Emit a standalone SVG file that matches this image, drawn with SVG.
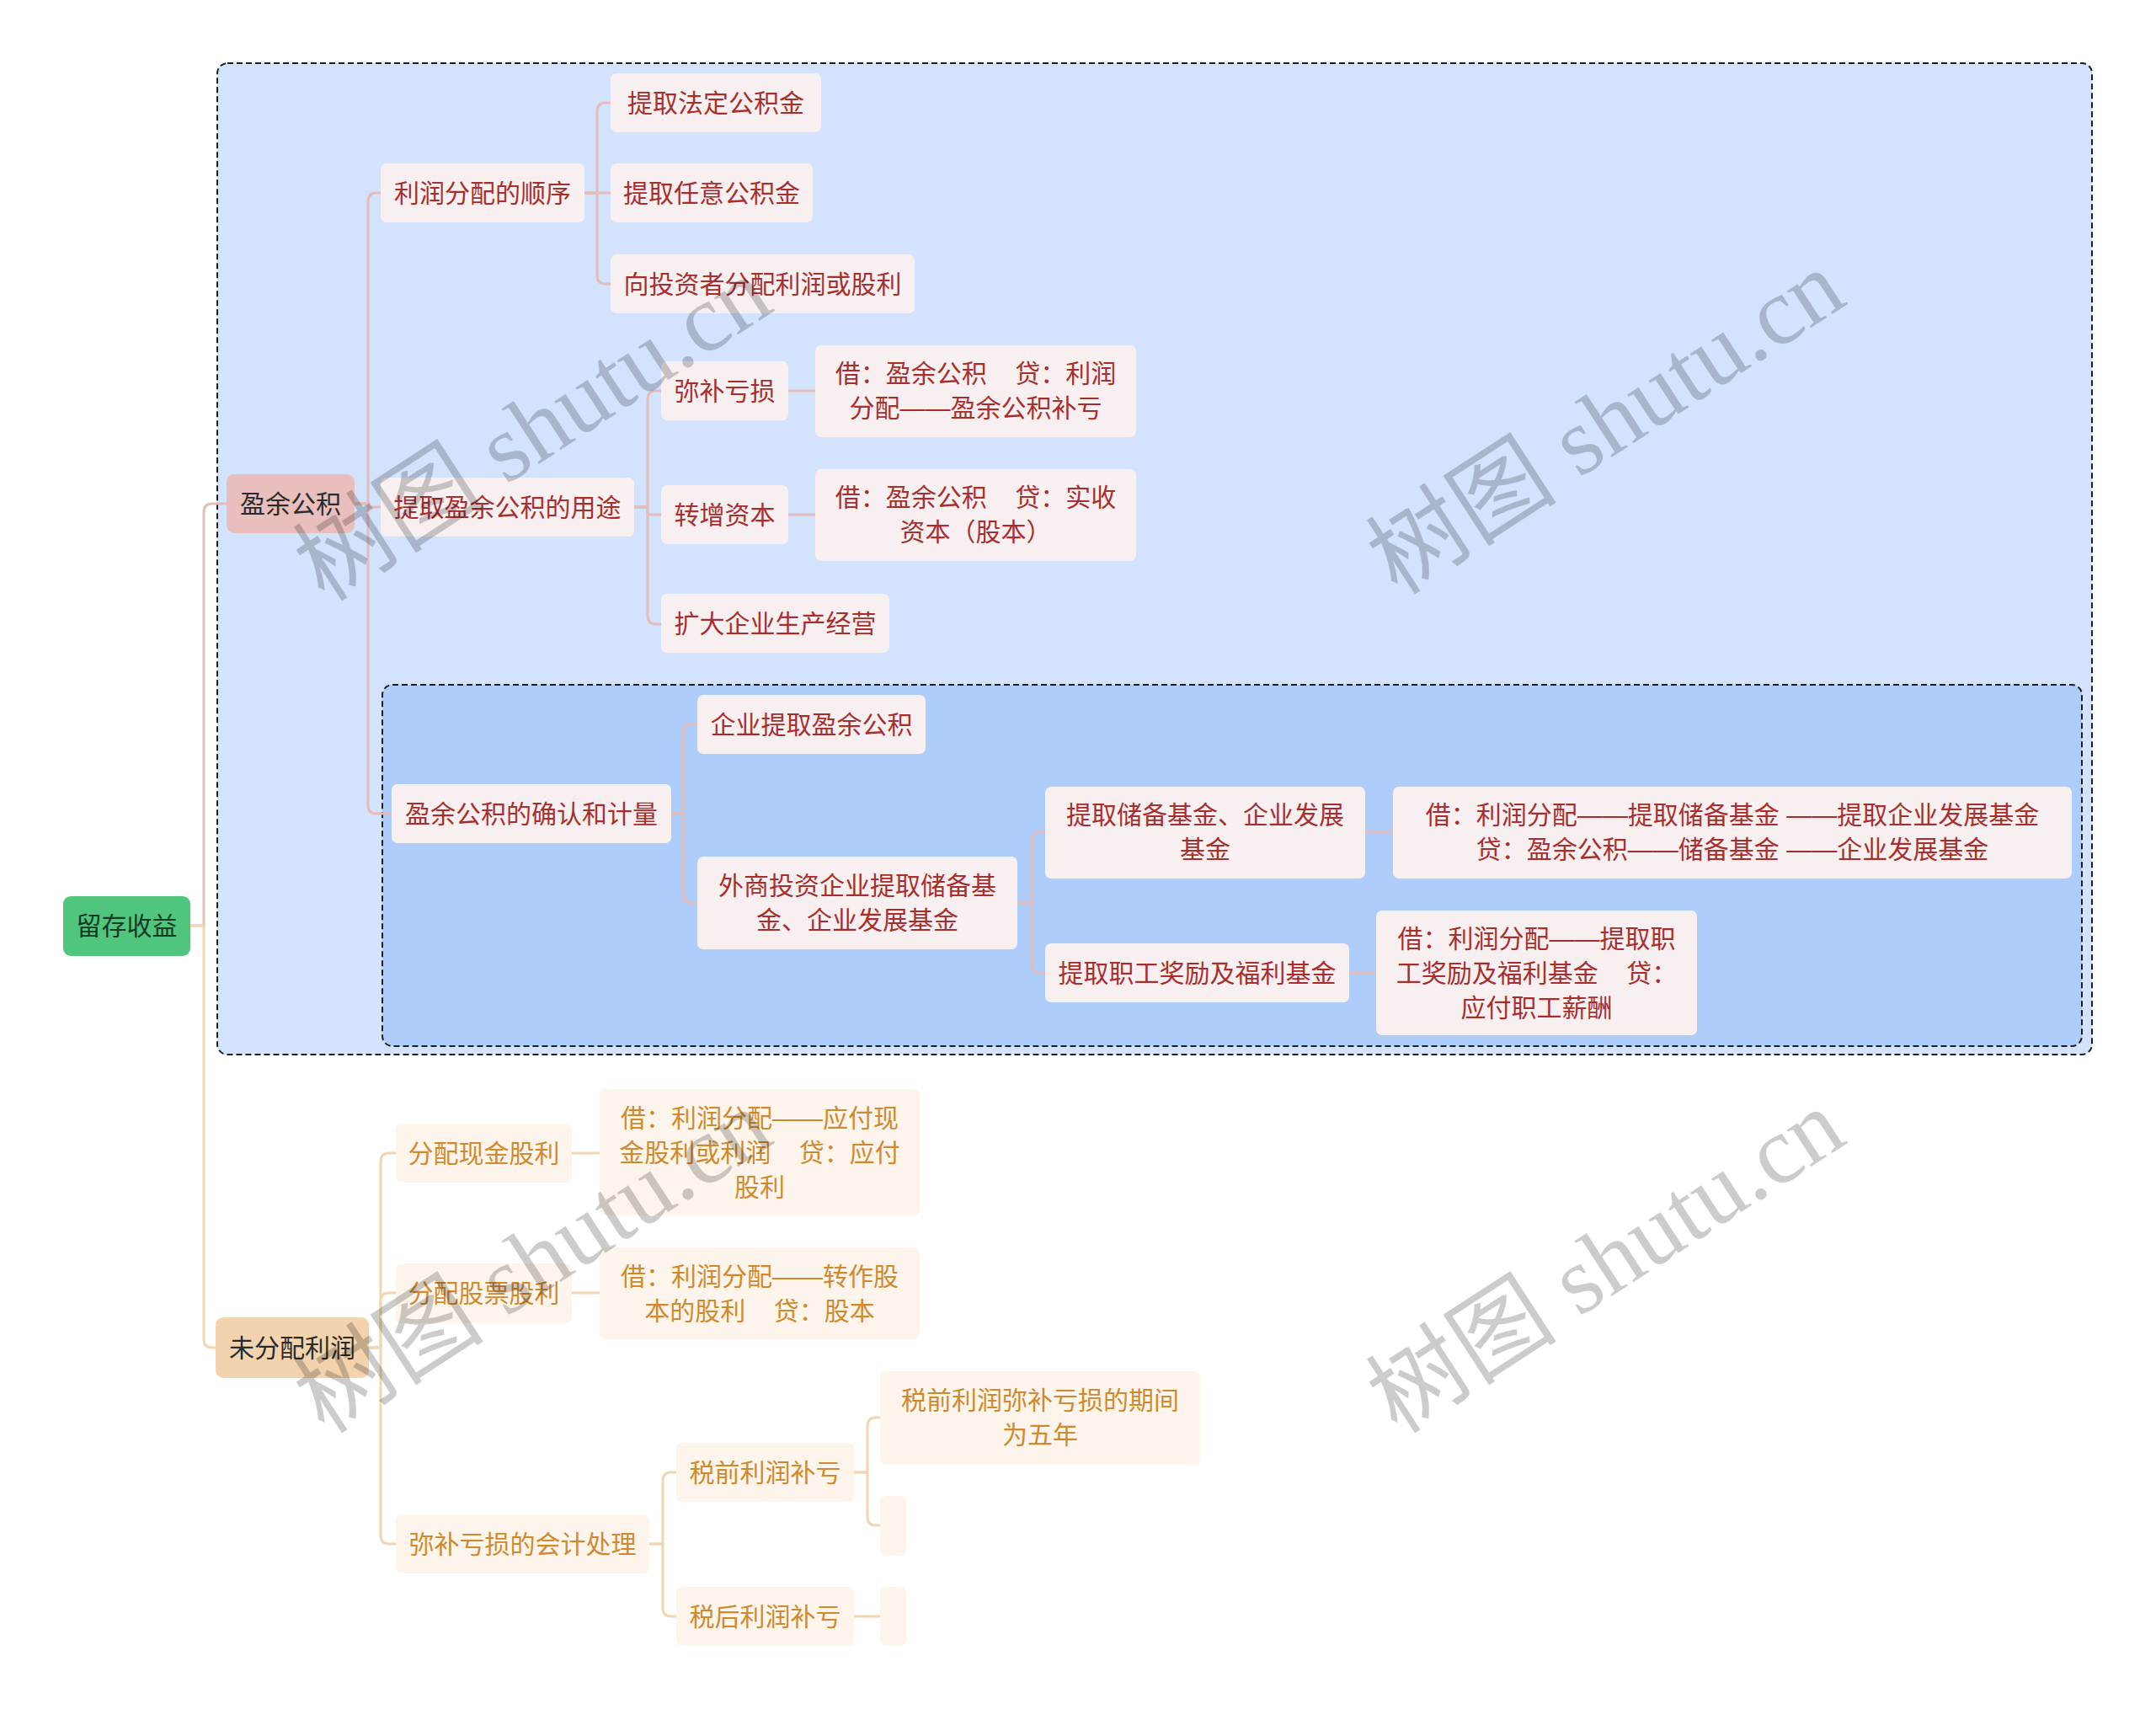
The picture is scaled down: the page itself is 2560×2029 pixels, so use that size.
<svg xmlns="http://www.w3.org/2000/svg" width="2560" height="2029" viewBox="0 0 2560 2029">
<style>
text{font-family:"Liberation Sans","Noto Sans CJK SC",sans-serif;font-size:30px;text-anchor:middle;white-space:pre}
.red rect{fill:#F8F0F0}
.red text{fill:#A82E2E}
.org rect{fill:#FDF5EB}
.org text{fill:#D0892C}
.cp{fill:none;stroke:#E4BCBA;stroke-width:3;stroke-linejoin:round}
.co{fill:none;stroke:#F2D6B2;stroke-width:3;stroke-linejoin:round}
.frame{stroke:#1E1E1E;stroke-width:2;stroke-dasharray:7 4}
.wm{font-family:"Liberation Serif","Noto Sans CJK SC",serif;font-size:114px;fill:#000;fill-opacity:0.2;text-anchor:middle}
</style>
<rect width="2560" height="2029" fill="#FFFFFF"/>
<g id="frames">
<rect class="frame" x="258" y="75" width="2226" height="1177" rx="12" fill="#D3E3FD"/>
<rect class="frame" x="454" y="813" width="2018" height="429" rx="12" fill="#AFCDFB"/>
</g>
<g id="connectors">
<path class="cp" d="M226,1099 H242 V608 Q242,598 252,598 H269"/>
<path class="co" d="M226,1099 H242 V1590 Q242,1600 252,1600 H256"/>
<path class="cp" d="M421,598 H437 V239 Q437,229 447,229 H452"/>
<path class="cp" d="M421,598 H437 V602 H452"/>
<path class="cp" d="M421,598 H437 V956 Q437,966 447,966 H465"/>
<path class="cp" d="M694,229 H709 V132 Q709,122 719,122 H725"/>
<path class="cp" d="M694,229 H725"/>
<path class="cp" d="M694,229 H709 V327 Q709,337 719,337 H725"/>
<path class="cp" d="M753,602 H769 V474 Q769,464 779,464 H785"/>
<path class="cp" d="M753,602 H769 V611 H785"/>
<path class="cp" d="M753,602 H769 V731 Q769,741 779,741 H785"/>
<path class="cp" d="M936,464 H968"/>
<path class="cp" d="M936,611 H968"/>
<path class="cp" d="M797,966 H811 V870 Q811,860 821,860 H828"/>
<path class="cp" d="M797,966 H811 V1062 Q811,1072 821,1072 H828"/>
<path class="cp" d="M1208,1072 H1225 V998 Q1225,988 1235,988 H1241"/>
<path class="cp" d="M1208,1072 H1225 V1145 Q1225,1155 1235,1155 H1241"/>
<path class="cp" d="M1621,988 H1654"/>
<path class="cp" d="M1602,1155 H1634"/>
<path class="co" d="M438,1600 H452 V1379 Q452,1369 462,1369 H470"/>
<path class="co" d="M438,1600 H452 V1545 Q452,1535 462,1535 H470"/>
<path class="co" d="M438,1600 H452 V1823 Q452,1833 462,1833 H470"/>
<path class="co" d="M679,1369 H712"/>
<path class="co" d="M679,1535 H712"/>
<path class="co" d="M771,1833 H787 V1758 Q787,1748 797,1748 H803"/>
<path class="co" d="M771,1833 H787 V1909 Q787,1919 797,1919 H803"/>
<path class="co" d="M1014,1748 H1030 V1693 Q1030,1683 1040,1683 H1045"/>
<path class="co" d="M1014,1748 H1030 V1801 Q1030,1811 1040,1811 H1045"/>
<path class="co" d="M1014,1919 H1045"/>
</g>
<g id="root"><rect x="75" y="1064" width="151" height="71" rx="9" fill="#50C57E"/><text x="150.5" y="1110" fill="#173A24">留存收益</text></g>
<g id="n-yygj"><rect x="269" y="563" width="152" height="70" rx="9" fill="#E8BFBD"/><text x="345" y="609" fill="#2B2B2B">盈余公积</text></g>
<g id="n-wfplr"><rect x="256" y="1564" width="182" height="72" rx="9" fill="#F3D3AD"/><text x="347" y="1611" fill="#2B2B2B">未分配利润</text></g>
<g class="red">
<g id="a1"><rect x="452" y="194" width="242" height="70" rx="7"/><text x="573" y="240">利润分配的顺序</text></g>
<g id="a2"><rect x="452" y="567" width="301" height="70" rx="7"/><text x="602.5" y="613">提取盈余公积的用途</text></g>
<g id="a3"><rect x="465" y="931" width="332" height="70" rx="7"/><text x="631" y="977">盈余公积的确认和计量</text></g>
<g id="b1"><rect x="725" y="87" width="250" height="70" rx="7"/><text x="850" y="133">提取法定公积金</text></g>
<g id="b2"><rect x="725" y="194" width="240" height="70" rx="7"/><text x="845" y="240">提取任意公积金</text></g>
<g id="b3"><rect x="725" y="302" width="361" height="70" rx="7"/><text x="905.5" y="348">向投资者分配利润或股利</text></g>
<g id="c1"><rect x="785" y="429" width="151" height="70" rx="7"/><text x="860.5" y="475">弥补亏损</text></g>
<g id="c2"><rect x="785" y="576" width="151" height="70" rx="7"/><text x="860.5" y="622">转增资本</text></g>
<g id="c3"><rect x="785" y="705" width="271" height="70" rx="7"/><text x="920.5" y="751">扩大企业生产经营</text></g>
<g id="d1"><rect x="968" y="410" width="381" height="109" rx="7"/><text x="1158.5" y="454">借：盈余公积    贷：利润</text><text x="1158.5" y="495">分配——盈余公积补亏</text></g>
<g id="d2"><rect x="968" y="557" width="381" height="109" rx="7"/><text x="1158.5" y="601">借：盈余公积    贷：实收</text><text x="1158.5" y="642">资本（股本）</text></g>
<g id="e1"><rect x="828" y="825" width="271" height="70" rx="7"/><text x="963.5" y="871">企业提取盈余公积</text></g>
<g id="e2"><rect x="828" y="1017" width="380" height="110" rx="7"/><text x="1018" y="1062">外商投资企业提取储备基</text><text x="1018" y="1103">金、企业发展基金</text></g>
<g id="f1"><rect x="1241" y="934" width="380" height="109" rx="7"/><text x="1431" y="978">提取储备基金、企业发展</text><text x="1431" y="1019">基金</text></g>
<g id="f2"><rect x="1241" y="1120" width="361" height="70" rx="7"/><text x="1421.5" y="1166">提取职工奖励及福利基金</text></g>
<g id="g1"><rect x="1654" y="934" width="806" height="109" rx="7"/><text x="2057" y="978">借：利润分配——提取储备基金 ——提取企业发展基金</text><text x="2057" y="1019">贷：盈余公积——储备基金 ——企业发展基金</text></g>
<g id="g2"><rect x="1634" y="1081" width="381" height="148" rx="7"/><text x="1824.5" y="1125">借：利润分配——提取职</text><text x="1824.5" y="1166">工奖励及福利基金    贷：</text><text x="1824.5" y="1207">应付职工薪酬</text></g>
</g>
<g class="org">
<g id="h1"><rect x="470" y="1334" width="209" height="70" rx="7"/><text x="574.5" y="1380">分配现金股利</text></g>
<g id="h2"><rect x="470" y="1500" width="209" height="71" rx="7"/><text x="574.5" y="1546">分配股票股利</text></g>
<g id="h3"><rect x="470" y="1798" width="301" height="70" rx="7"/><text x="620.5" y="1844">弥补亏损的会计处理</text></g>
<g id="i1"><rect x="712" y="1293" width="380" height="150" rx="7"/><text x="902" y="1338">借：利润分配——应付现</text><text x="902" y="1379">金股利或利润    贷：应付</text><text x="902" y="1420">股利</text></g>
<g id="i2"><rect x="712" y="1481" width="380" height="109" rx="7"/><text x="902" y="1526">借：利润分配——转作股</text><text x="902" y="1567">本的股利    贷：股本</text></g>
<g id="j1"><rect x="803" y="1713" width="211" height="70" rx="7"/><text x="908.5" y="1759">税前利润补亏</text></g>
<g id="j2"><rect x="803" y="1884" width="211" height="70" rx="7"/><text x="908.5" y="1930">税后利润补亏</text></g>
<g id="k1"><rect x="1045" y="1628" width="380" height="111" rx="7"/><text x="1235" y="1673">税前利润弥补亏损的期间</text><text x="1235" y="1714">为五年</text></g>
<g id="k2"><rect x="1045" y="1776" width="31" height="71" rx="7"/></g>
<g id="k3"><rect x="1045" y="1884" width="31" height="70" rx="7"/></g>
</g>
<g id="watermarks">
<text class="wm" transform="translate(633,510) rotate(-33)" y="38">树图 shutu.cn</text>
<text class="wm" transform="translate(1907,502) rotate(-33)" y="38">树图 shutu.cn</text>
<text class="wm" transform="translate(633,1498) rotate(-33)" y="38">树图 shutu.cn</text>
<text class="wm" transform="translate(1907,1498) rotate(-33)" y="38">树图 shutu.cn</text>
</g>
</svg>
